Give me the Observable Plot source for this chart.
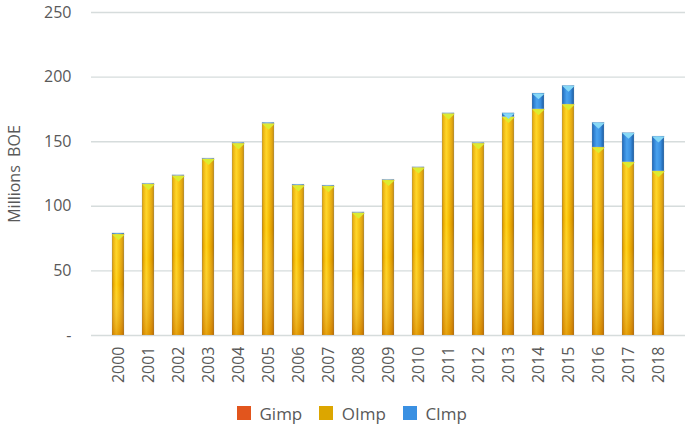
<!DOCTYPE html>
<html>
<head>
<meta charset="utf-8">
<script src="https://cdn.jsdelivr.net/npm/d3@7"></script>
<script src="https://cdn.jsdelivr.net/npm/@observablehq/plot@0.6"></script>
<style>
  html, body { margin: 0; padding: 0; background: #fff; }
  #chart { width: 685px; font-family: "Open Sans", sans-serif; }
  #chart div[class$="-swatch"] { margin-right: 1.55em !important; }
  #chart div[class$="-swatch"] svg { margin-right: 0.3em !important; }
</style>
</head>
<body>
<div id="chart"></div>
<script>
const years = ["2000","2001","2002","2003","2004","2005","2006","2007","2008","2009","2010","2011","2012","2013","2014","2015","2016","2017","2018"];
const types = ["Gimp", "OImp", "CImp"];
const gimp = [0,0,0,0,0,0,0,0,0,0,0,0,0,0,0,0,0,0,0];
const oimp = [78.2, 117, 123.5, 136.5, 148.5, 163.8, 116, 115.4, 94.8, 120.1, 129.8, 171.5, 148.5, 169, 175, 178.7, 145.5, 134, 127];
const cimp = [0.8, 0.5, 0.5, 0.5, 0.6, 0.8, 0.7, 0.6, 0.5, 0.4, 0.4, 0.5, 0.5, 3, 12.3, 14.5, 19.1, 22.7, 26.9];
const yTicks = [0, 50, 100, 150, 200, 250];

const rows = [];
years.forEach((y, i) => {
  rows.push({year: y, type: "Gimp", value: gimp[i]});
  rows.push({year: y, type: "OImp", value: oimp[i]});
  rows.push({year: y, type: "CImp", value: cimp[i]});
});
const oilTops = years.map((y, i) => ({year: y, v: gimp[i] + oimp[i]}));
const capTops = years.map((y, i) => ({year: y, v: gimp[i] + oimp[i] + cimp[i], c: cimp[i]})).filter(d => d.c > 2);

const flatTri = {
  draw(ctx, size) {
    const s = Math.sqrt(size);
    ctx.moveTo(-s * 0.6, -s * 0.25);
    ctx.lineTo(s * 0.6, -s * 0.25);
    ctx.lineTo(0, s * 0.3);
    ctx.closePath();
  }
};

function defs() {
  const d = d3.create("svg:defs");
  const lin = (id, stops, vertical) => {
    const g = d.append("linearGradient").attr("id", id)
      .attr("x1", 0).attr("y1", 0).attr("x2", vertical ? 0 : 1).attr("y2", vertical ? 1 : 0);
    stops.forEach(([o, c, op]) => g.append("stop").attr("offset", o).attr("stop-color", c).attr("stop-opacity", op ?? 1));
  };
  lin("gOil", [[0, "#b07800"], [0.12, "#e6a600"], [0.35, "#ffd31a"], [0.6, "#f4b800"], [0.85, "#d99400"], [1, "#9a6500"]]);
  lin("gCap", [[0, "#1d5fa8"], [0.15, "#2f7fd0"], [0.4, "#4aa2ee"], [0.7, "#3a8fe0"], [1, "#1b5a9e"]]);
  lin("gGas", [[0, "#a83a10"], [0.4, "#ef6a2a"], [1, "#a83a10"]]);
  lin("vShade", [[0, "#ffe040", 0.25], [0.5, "#ffffff", 0], [1, "#c06000", 0.4]], true);
  return d.node();
}

const plot = Plot.plot({
  width: 685,
  height: 395,
  marginLeft: 91,
  marginRight: 0,
  marginTop: 12,
  marginBottom: 60,
  style: {fontFamily: "Open Sans, sans-serif", fontSize: "16px", color: "#595959", background: "#fff"},
  x: {domain: years, padding: 0.6, label: null},
  y: {domain: [0, 250], label: null},
  color: {domain: types, range: ["url(#gGas)", "url(#gOil)", "url(#gCap)"]},
  marks: [
    defs,
    Plot.gridY(yTicks, {stroke: "#d6dcdc", strokeOpacity: 1, strokeWidth: 1.4}),
    Plot.axisY({ticks: yTicks, tickSize: 0, tickPadding: 20, fontSize: 16,
      tickFormat: d => d === 0 ? "-" : d3.format("d")(d),
      label: "Millions\u00a0 BOE", labelAnchor: "center", labelArrow: "none", labelOffset: 83}),
    Plot.axisX({tickRotate: -90, tickSize: 0, tickPadding: 11, fontSize: 16, label: null}),
    Plot.barY(rows, {x: "year", y: "value", fill: "type", order: types, stroke: "#b8c0c0", strokeOpacity: 0.35, strokeWidth: 0.8}),
    Plot.barY(oilTops, {x: "year", y: "v", fill: "url(#vShade)"}),
    Plot.dot(oilTops, {x: "year", y: "v", symbol: flatTri, r: 6, dy: 2.6, fill: "#dcec30", stroke: "none"}),
    Plot.dot(capTops, {x: "year", y: "v", symbol: flatTri, r: 6, dy: 2.6, fill: "#86d8f6", stroke: "none"})
  ]
});

const legend = Plot.legend({
  color: {type: "ordinal", domain: types, range: ["#e2551d", "#dca600", "#3a90e2"]},
  legend: "swatches",
  swatchSize: 14,
  style: {fontFamily: "Open Sans, sans-serif", fontSize: "17px", color: "#595959", justifyContent: "center", paddingLeft: "36px", minHeight: "36px", margin: "0"}
});

const chart = document.getElementById("chart");
chart.appendChild(plot);
chart.appendChild(legend);
</script>
</body>
</html>
